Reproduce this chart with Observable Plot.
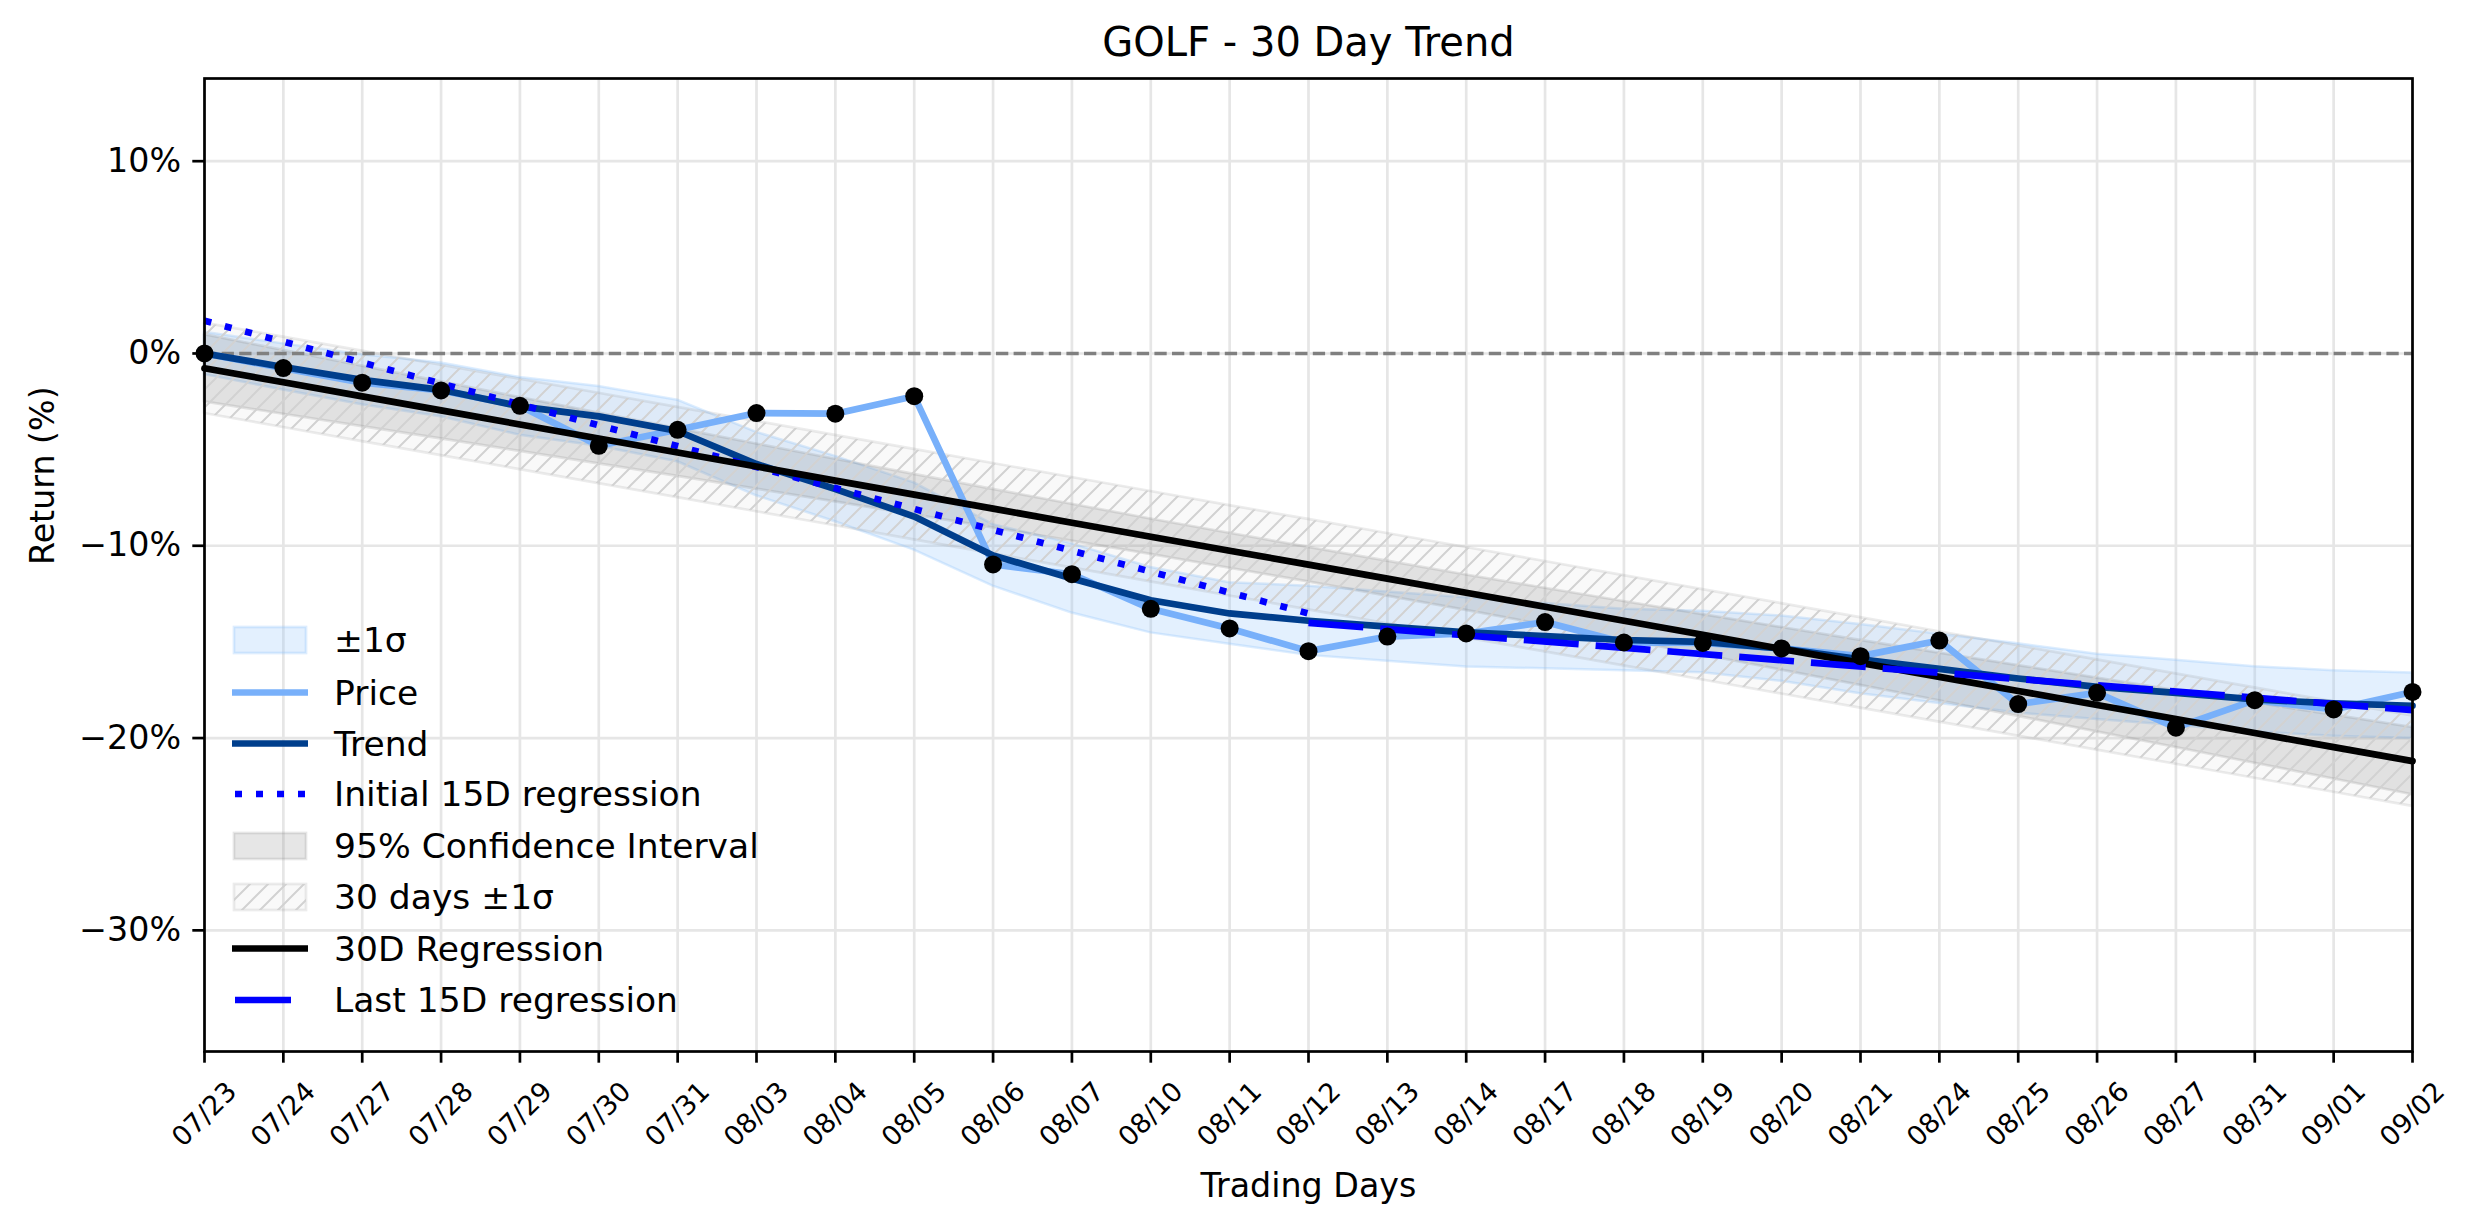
<!DOCTYPE html>
<html><head><meta charset="utf-8">
<script src="https://cdn.jsdelivr.net/npm/d3@7"></script>
<script src="https://cdn.jsdelivr.net/npm/@observablehq/plot@0.6"></script>
<style>
html,body{margin:0;padding:0;background:#fff;}
#chart svg{display:block;font-family:"DejaVu Sans",sans-serif;}
</style></head><body><div id="chart"></div>
<script>
// ---- data ----
const dates = ["07/23","07/24","07/27","07/28","07/29","07/30","07/31","08/03","08/04","08/05","08/06","08/07","08/10","08/11","08/12","08/13","08/14","08/17","08/18","08/19","08/20","08/21","08/24","08/25","08/26","08/27","08/31","09/01","09/02"];
const price = [0,-0.76,-1.52,-1.92,-2.72,-4.80,-3.97,-3.10,-3.13,-2.22,-10.97,-11.48,-13.28,-14.30,-15.48,-14.72,-14.56,-13.97,-15.03,-15.05,-15.34,-15.74,-14.93,-18.23,-17.65,-19.46,-18.03,-18.51,-17.60];
const trend = [0,-0.70,-1.37,-1.89,-2.75,-3.27,-4.03,-5.75,-7.05,-8.48,-10.5,-11.7,-12.83,-13.52,-13.9,-14.2,-14.5,-14.7,-14.9,-15.0,-15.35,-15.9,-16.4,-16.9,-17.34,-17.65,-17.99,-18.2,-18.32];
const sigma = [1.1,1.2,1.3,1.4,1.5,1.55,1.6,1.65,1.7,1.75,1.6,1.8,1.7,1.6,1.8,1.8,1.8,1.7,1.6,1.6,1.7,1.8,1.8,1.8,1.7,1.7,1.7,1.7,1.7];
const reg30 = [-0.77,-1.50,-2.23,-2.96,-3.69,-4.42,-5.15,-5.88,-6.61,-7.34,-8.07,-8.80,-9.53,-10.26,-10.98,-11.71,-12.44,-13.17,-13.90,-14.63,-15.36,-16.09,-16.82,-17.55,-18.28,-19.01,-19.74,-20.47,-21.20];
const ci95 = [1.75,1.66,1.57,1.48,1.40,1.32,1.24,1.17,1.11,1.05,1.00,0.96,0.92,0.91,0.90,0.91,0.92,0.96,1.00,1.05,1.11,1.17,1.24,1.32,1.40,1.48,1.57,1.66,1.75];
const sigma30 = 2.35;
const initialDates = ["07/23","08/12"];
const initialReg = [1.7,-13.52];
const lastDates = ["08/12","09/02"];
const lastReg = [-14.01,-18.55];
const yTicks = [-30,-20,-10,0,10];
const yDomain = [-36.3,14.3];
const title = "GOLF - 30 Day Trend";
const xLabel = "Trading Days";
const yLabel = "Return (%)";
const legendLabels = ["±1σ","Price","Trend","Initial 15D regression","95% Confidence Interval","30 days ±1σ","30D Regression","Last 15D regression"];

// ---- tables ----
const rows = dates.map((d,i)=>({date:d, price:price[i], trend:trend[i], sigma:sigma[i], reg:reg30[i], ci:ci95[i]}));
const initialRows = initialDates.map((d,i)=>({date:d, v:initialReg[i]}));
const lastRows = lastDates.map((d,i)=>({date:d, v:lastReg[i]}));
const fmt = d => (d<0?"\u2212":"")+Math.abs(d)+"%";

const C = {price:"#78b0fa", trend:"#003e8c", band:"#8ec3fb", blue:"#0000ff", grid:"#e6e6e6"};

const plot = Plot.plot({
  width:2474, height:1224,
  marginTop:78, marginRight:62, marginBottom:173, marginLeft:204,
  style:{fontFamily:"DejaVu Sans", background:"white", overflow:"visible", color:"black"},
  x:{type:"point", domain:dates, padding:0, round:false},
  y:{domain:yDomain},
  marks:[
    Plot.ruleX(dates, {x:d=>d, stroke:C.grid, strokeWidth:2.7}),
    Plot.ruleY(yTicks, {y:d=>d, stroke:C.grid, strokeWidth:2.7}),
    Plot.areaY(rows, {x:"date", y1:d=>d.trend-d.sigma, y2:d=>d.trend+d.sigma, fill:C.band, fillOpacity:0.25, stroke:C.band, strokeOpacity:0.3, strokeWidth:2.5}),
    Plot.areaY(rows, {x:"date", y1:d=>d.reg-d.ci, y2:d=>d.reg+d.ci, fill:"gray", fillOpacity:0.2, stroke:"gray", strokeOpacity:0.2, strokeWidth:2.7}),
    Plot.areaY(rows, {x:"date", y1:d=>d.reg-sigma30, y2:d=>d.reg+sigma30, fill:"gray", fillOpacity:0.05, stroke:"gray", strokeOpacity:0.15, strokeWidth:2.7}),
    Plot.areaY(rows, {x:"date", y1:d=>d.reg-sigma30, y2:d=>d.reg+sigma30, fill:"url(#hatch30)"}),
    Plot.ruleY([0], {stroke:"#808080", strokeWidth:3.3, strokeDasharray:"12.3,5.3"}),
    Plot.lineY(rows, {x:"date", y:"price", stroke:C.price, strokeWidth:6.7}),
    Plot.lineY(rows, {x:"date", y:"trend", stroke:C.trend, strokeWidth:6.7}),
    Plot.lineY(initialRows, {x:"date", y:"v", stroke:C.blue, strokeWidth:6.7, strokeDasharray:"7,14", strokeLinecap:"butt"}),
    Plot.lineY(rows, {x:"date", y:"reg", stroke:"black", strokeWidth:6.7}),
    Plot.lineY(lastRows, {x:"date", y:"v", stroke:C.blue, strokeWidth:6.7, strokeDasharray:"55,17", strokeLinecap:"butt"}),
    Plot.dot(rows, {x:"date", y:"price", r:9, fill:"black", stroke:"none"}),
    Plot.frame({stroke:"black", strokeWidth:2.7}),
    Plot.axisY(yTicks, {tickSize:11.7, tickPadding:11.7, tickFormat:fmt, fontSize:33.3, strokeWidth:2.7, label:null}),
    Plot.axisX(dates, {tickSize:11.7, tickFormat:()=>"", strokeWidth:2.7, label:null}),
    Plot.text(dates, {x:d=>d, frameAnchor:"bottom", lineAnchor:"middle", dy:63, rotate:-45, textAnchor:"middle", fontSize:27}),
    Plot.text([title], {frameAnchor:"top", lineAnchor:"middle", dy:-35, fontSize:40}),
    Plot.text([xLabel], {frameAnchor:"bottom", lineAnchor:"middle", dy:135, fontSize:33.3}),
    Plot.text([yLabel], {frameAnchor:"left", lineAnchor:"middle", dx:-161, rotate:-90, fontSize:33.3})
  ]
});

const svg = d3.select(plot);
const defs = svg.insert("defs", ":first-child");
const pat = defs.append("pattern").attr("id","hatch30").attr("patternUnits","userSpaceOnUse").attr("width",18).attr("height",18);
pat.append("path").attr("d","M-4.5,4.5L4.5,-4.5M0,18L18,0M13.5,22.5L22.5,13.5").attr("stroke","#d2d2d2").attr("stroke-width",2).attr("fill","none");

// ---- legend ----
const lg = svg.append("g").attr("font-family","DejaVu Sans").attr("font-size",34.5).attr("text-anchor","start");
const rowY = [640,692.5,743.5,794,846,897,948.5,1000];
const kinds = [
  {t:"patch", fill:C.band, fo:0.25, stroke:C.band, so:0.3},
  {t:"line", stroke:C.price},
  {t:"line", stroke:C.trend},
  {t:"line", stroke:C.blue, dash:"7,14", x1:235, x2:306},
  {t:"patch", fill:"gray", fo:0.2, stroke:"gray", so:0.2},
  {t:"hatch"},
  {t:"line", stroke:"black"},
  {t:"line", stroke:C.blue, x1:235, x2:291}
];
kinds.forEach((k,i)=>{
  const y = rowY[i];
  if (k.t==="line") {
    lg.append("line").attr("x1",k.x1||232).attr("x2",k.x2||308).attr("y1",y).attr("y2",y)
      .attr("stroke",k.stroke).attr("stroke-width",6.7).attr("stroke-dasharray",k.dash||null);
  } else if (k.t==="patch") {
    lg.append("rect").attr("x",234).attr("y",y-13).attr("width",72).attr("height",26)
      .attr("fill",k.fill).attr("fill-opacity",k.fo).attr("stroke",k.stroke).attr("stroke-opacity",k.so).attr("stroke-width",2.7);
  } else {
    lg.append("rect").attr("x",234).attr("y",y-13).attr("width",72).attr("height",26)
      .attr("fill","gray").attr("fill-opacity",0.05).attr("stroke","gray").attr("stroke-opacity",0.15).attr("stroke-width",2.7);
    lg.append("rect").attr("x",234).attr("y",y-13).attr("width",72).attr("height",26).attr("fill","url(#hatch30)");
  }
  lg.append("text").attr("x",334).attr("y",y).attr("dy","0.35em").attr("fill","black").attr("text-anchor","start").text(legendLabels[i]);
});

document.getElementById("chart").appendChild(plot);
</script></body></html>
